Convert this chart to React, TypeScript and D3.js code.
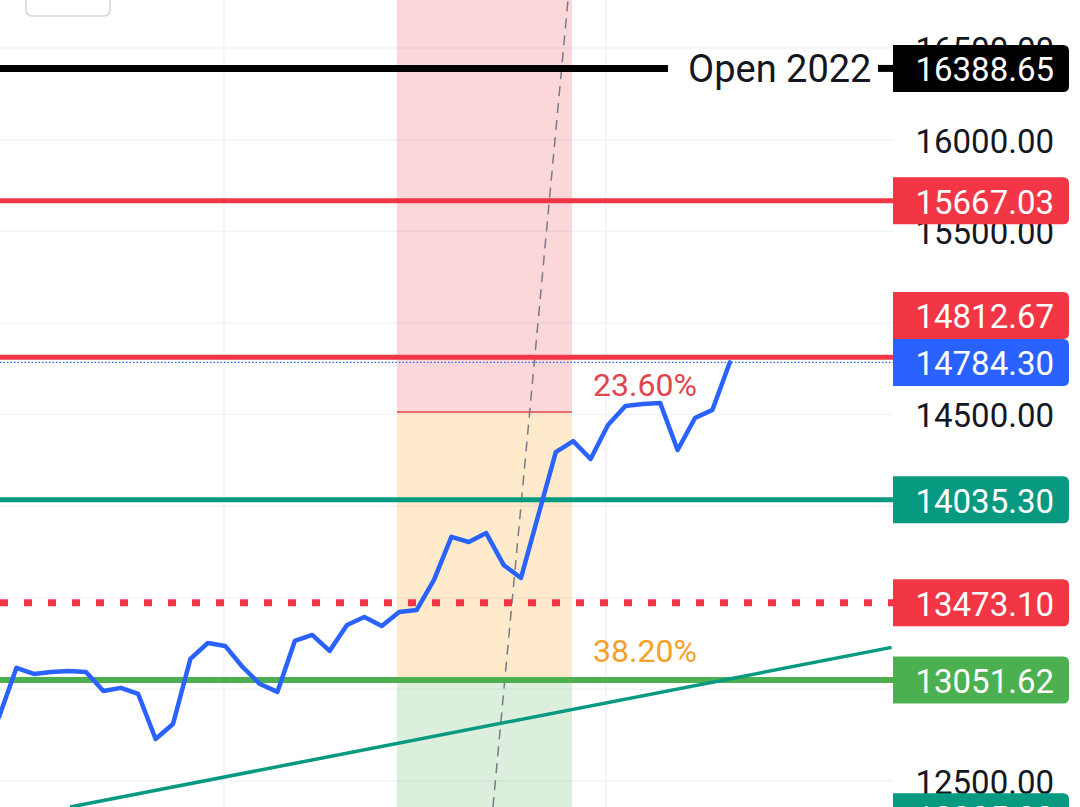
import { useEffect, useRef } from 'react';
import * as d3 from 'd3';

// price series (one point per bar, bar index = array index)
const closes = [
  12849, 13117, 13084, 13095, 13100, 13095, 12991, 13008, 12975, 12729,
  12811, 13166, 13253, 13237, 13122, 13029, 12986, 13264, 13297, 13210,
  13351, 13395, 13346, 13422, 13433, 13597, 13832, 13804, 13853, 13679,
  13608, 13952, 14295, 14355, 14257, 14443, 14546, 14557, 14563, 14306,
  14481, 14525, 14784.3,
];

const axisTicks = [12500, 13000, 13500, 14000, 14500, 15000, 15500, 16000, 16500];
const timeGrid = [12.93, 34.88];

// horizontal levels
const openLevel = 16388.65;
const redLevels = [15667.03, 14812.67];
const tealLevel = 14035.3;
const dottedLevel = 13473.1;
const greenLevel = 13051.62;
const lastPrice = 14784.3;
const bottomLevel = 12305.0;

// fib zone
const fibStart = 22.87;
const fibEnd = 32.93;
const fib236 = 14514;
const fib382 = 13062;

// drawn lines [bar, price]
const dashedRay: [number, number][] = [[28.39, 12358], [32.7, 16762]];
const trendLine: [number, number][] = [[4.08, 12358], [51.3, 13229]];

const W = 1080;
const H = 807;
const plotRight = 893;
const boxW = 176;
const boxH = 47;
const font = 'Roboto, "Noto Sans", sans-serif';

function boxPath(x: number, y: number, w: number, h: number, r: number) {
  return `M${x},${y}H${x + w - r}Q${x + w},${y} ${x + w},${y + r}V${y + h - r}Q${x + w},${y + h} ${x + w - r},${y + h}H${x}Z`;
}

export default function App() {
  const svgRef = useRef<SVGSVGElement>(null);

  useEffect(() => {
    if (!svgRef.current) return;
    const svg = d3.select(svgRef.current);
    svg.selectAll('*').remove();

    const x = d3.scaleLinear().domain([0.0575, 51.38]).range([0, plotRight]);
    const y = d3.scaleLinear().domain([12358, 16762]).range([H, 0]);

    svg.append('rect').attr('width', W).attr('height', H).attr('fill', '#ffffff');

    // grid
    const grid = svg.append('g').attr('stroke', '#f0f3fa').attr('stroke-width', 1.5);
    axisTicks.forEach((t) => {
      grid.append('line').attr('x1', 0).attr('x2', plotRight).attr('y1', y(t)).attr('y2', y(t));
    });
    timeGrid.forEach((t) => {
      grid.append('line').attr('x1', x(t)).attr('x2', x(t)).attr('y1', 0).attr('y2', H);
    });

    // fib zones
    const fx0 = x(fibStart);
    const fw = x(fibEnd) - fx0;
    svg.append('rect').attr('x', fx0).attr('y', 0).attr('width', fw).attr('height', y(fib236))
      .attr('fill', 'rgba(242,54,69,0.2)');
    svg.append('rect').attr('x', fx0).attr('y', y(fib236)).attr('width', fw).attr('height', y(fib382) - y(fib236))
      .attr('fill', 'rgba(255,152,0,0.2)');
    svg.append('rect').attr('x', fx0).attr('y', y(fib382)).attr('width', fw).attr('height', H - y(fib382))
      .attr('fill', 'rgba(76,175,80,0.2)');
    svg.append('line').attr('x1', fx0).attr('x2', fx0 + fw).attr('y1', y(fib236)).attr('y2', y(fib236))
      .attr('stroke', '#e0454f').attr('stroke-width', 1.5);
    svg.append('line').attr('x1', fx0).attr('x2', fx0 + fw).attr('y1', y(fib382)).attr('y2', y(fib382))
      .attr('stroke', '#f5a02a').attr('stroke-width', 1.5);

    const seg = d3.line<[number, number]>().x((d) => x(d[0])).y((d) => y(d[1]));

    // dashed ray
    svg.append('path').datum(dashedRay).attr('d', seg).attr('fill', 'none')
      .attr('stroke', '#787b86').attr('stroke-width', 1.5).attr('stroke-dasharray', '10 7');

    // horizontal levels
    const hline = (v: number, color: string, width: number, x1 = 0, x2 = plotRight, dash?: string) => {
      const l = svg.append('line').attr('x1', x1).attr('x2', x2).attr('y1', y(v)).attr('y2', y(v))
        .attr('stroke', color).attr('stroke-width', width);
      if (dash) l.attr('stroke-dasharray', dash);
    };
    hline(openLevel, '#000000', 7, 0, 668);
    hline(openLevel, '#000000', 7, 878, plotRight);
    redLevels.forEach((v) => hline(v, '#f23645', 5));
    hline(tealLevel, '#089981', 5);
    hline(dottedLevel, '#f23645', 7, 0, plotRight, '8 16');
    hline(greenLevel, '#4caf50', 6);
    hline(lastPrice, '#2962ff', 1.2, 0, plotRight, '1.5 2');

    // trend line
    svg.append('path').datum(trendLine).attr('d', seg).attr('fill', 'none')
      .attr('stroke', '#089981').attr('stroke-width', 3.5);

    // price line
    const line = d3.line<number>().x((_, i) => x(i)).y((d) => y(d));
    svg.append('path').datum(closes).attr('d', line).attr('fill', 'none')
      .attr('stroke', '#2962ff').attr('stroke-width', 4.5)
      .attr('stroke-linejoin', 'round').attr('stroke-linecap', 'round');

    // fib labels
    svg.append('text').attr('x', 593).attr('y', y(fib236) - 16).text('23.60%')
      .attr('font-family', font).attr('font-size', 32).attr('fill', '#e0454f');
    svg.append('text').attr('x', 593).attr('y', y(fib382) - 16).text('38.20%')
      .attr('font-family', font).attr('font-size', 32).attr('fill', '#f5a02a');

    // open label
    svg.append('text').attr('x', 688).attr('y', y(openLevel) + 14).text('Open 2022')
      .attr('font-family', font).attr('font-size', 38).attr('fill', '#131722');

    // price axis
    const axis = svg.append('g');
    axis.append('rect').attr('x', plotRight).attr('y', 0).attr('width', W - plotRight).attr('height', H)
      .attr('fill', '#ffffff');
    axisTicks.forEach((t) => {
      axis.append('text').attr('x', 1054).attr('y', y(t) + 13).attr('text-anchor', 'end')
        .attr('font-family', font).attr('font-size', 33).attr('fill', '#131722')
        .text(d3.format('.2f')(t));
    });

    const labelBox = (v: number, color: string, cy: number) => {
      axis.append('path').attr('d', boxPath(plotRight, cy - boxH / 2, boxW, boxH, 6)).attr('fill', color);
      axis.append('text').attr('x', 1054).attr('y', cy + 13).attr('text-anchor', 'end')
        .attr('font-family', font).attr('font-size', 33).attr('fill', '#ffffff')
        .text(d3.format('.2f')(v));
    };
    labelBox(openLevel, '#000000', y(openLevel));
    labelBox(redLevels[0], '#f23645', y(redLevels[0]));
    labelBox(lastPrice, '#2962ff', y(lastPrice));
    labelBox(redLevels[1], '#f23645', y(lastPrice) - boxH);
    labelBox(tealLevel, '#089981', y(tealLevel));
    labelBox(dottedLevel, '#f23645', y(dottedLevel));
    labelBox(greenLevel, '#4caf50', y(greenLevel));
    labelBox(bottomLevel, '#089981', y(bottomLevel));

    // top-left button
    svg.append('rect').attr('x', 26).attr('y', -12).attr('width', 84).attr('height', 28).attr('rx', 6)
      .attr('fill', '#ffffff').attr('stroke', '#d1d4dc').attr('stroke-width', 1.5);
  }, []);

  return (
    <svg
      ref={svgRef}
      width={W}
      height={H}
      style={{ position: 'absolute', left: 0, top: 0, display: 'block' }}
    />
  );
}
